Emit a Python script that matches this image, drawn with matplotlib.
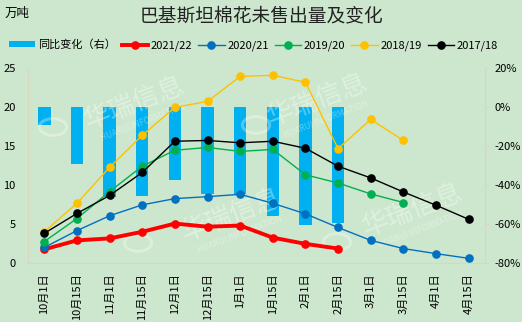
import numpy as np
import matplotlib.pyplot as plt
from matplotlib.patches import Circle

plt.rcParams['font.family'] = ['Noto Sans CJK SC', 'DejaVu Sans']
plt.rcParams['font.size'] = 8

dates = ['10月1日', '10月15日', '11月1日', '11月15日', '12月1日', '12月15日', '1月1日',
         '1月15日', '2月1日', '2月15日', '3月1日', '3月15日', '4月1日', '4月15日']

# 未售出量（万吨）
s2122 = [1.8, 2.95, 3.2, 4.05, 5.1, 4.7, 4.85, 3.3, 2.5, 1.9]
s2021 = [2.05, 4.2, 6.1, 7.5, 8.3, 8.55, 8.85, 7.7, 6.35, 4.6, 2.95, 1.9, 1.25, 0.65]
s1920 = [2.8, 5.75, 9.2, 12.45, 14.5, 14.85, 14.35, 14.6, 11.35, 10.3, 8.9, 7.8]
s1819 = [4.05, 7.7, 12.3, 16.4, 20.0, 20.75, 23.95, 24.1, 23.2, 14.7, 18.45, 15.75]
s1718 = [3.85, 6.4, 8.7, 11.65, 15.65, 15.75, 15.45, 15.65, 14.75, 12.45, 10.95, 9.15, 7.45, 5.65]
# 同比变化（%）
yoy = [-9, -29, -46, -45.5, -37.5, -44.5, -44.5, -55.6, -60.2, -59.1]

bg = '#CDE7CE'
axc = '#D8D6BE'

fig = plt.figure(figsize=(5.22, 3.22), dpi=100, facecolor=bg)
ax = fig.add_axes([0.0536, 0.182, 0.8755, 0.606])
ax2 = ax.twinx()
ax.set_zorder(ax2.get_zorder() + 1)
ax.patch.set_visible(False)
ax2.set_facecolor(bg)

x = np.arange(len(dates))
bars = ax2.bar(x[:len(yoy)], yoy, width=0.38, color='#00B0F0', label='同比变化（右）')
ax2.set_ylim(-80, 20)
ax2.set_yticks(np.arange(-80, 21, 20))
ax2.set_yticklabels([f'{v}%' for v in range(-80, 21, 20)])
ax2.tick_params(axis='y', length=3, color=axc, pad=4, labelsize=8)

series = [('2021/22', s2122, '#FF0000', 2.8),
          ('2020/21', s2021, '#0070C0', 1.0),
          ('2019/20', s1920, '#00B050', 1.0),
          ('2018/19', s1819, '#FFC000', 1.0),
          ('2017/18', s1718, '#000000', 1.0)]
lines = []
for name, vals, c, lw in series:
    ln, = ax.plot(x[:len(vals)], vals, color=c, lw=lw, marker='o', ms=5.2,
                  label=name, zorder=3)
    lines.append(ln)

ax.set_xlim(-0.5, len(dates) - 0.5)
ax.set_ylim(0, 25)
ax.set_yticks(np.arange(0, 26, 5))
ax.set_xticks(x)
ax.set_xticklabels(dates, rotation=90)
ax.tick_params(axis='y', length=0, pad=9, labelsize=8)
ax.tick_params(axis='x', length=0, pad=7, labelsize=8)

for a in (ax, ax2):
    a.spines['top'].set_visible(False)
    for s in ('left', 'right', 'bottom'):
        a.spines[s].set_color(axc)
        a.spines[s].set_linewidth(0.8)

# watermark
for tx, ty, lx, ly in [(135, 103, 53, 127), (318, 100, 256, 125),
                       (232, 215, 138, 243), (413, 210, 337, 242)]:
    ax.text(tx / 522, 1 - ty / 322, '华瑞信息', transform=fig.transFigure,
            fontsize=19, color='white', alpha=0.35, rotation=21,
            ha='center', va='center', zorder=1)
    ax.text((tx + 8) / 522, 1 - (ty + 20) / 322, 'HUARUI INFORMATION',
            transform=fig.transFigure, fontsize=6, color='white', alpha=0.35,
            rotation=21, ha='center', va='center', zorder=1)
    ax.add_patch(Circle((lx / 522, 1 - ly / 322), 0.026, transform=fig.transFigure,
                        fill=False, ec='white', lw=2.2, alpha=0.3, zorder=1))

fig.text(0.5, 0.952, '巴基斯坦棉花未售出量及变化', ha='center', va='center',
         fontsize=13.5, color='#222222')
fig.text(0.008, 0.958, '万吨', ha='left', va='center', fontsize=9)

fig.legend([bars] + lines, ['同比变化（右）'] + [s[0] for s in series],
           loc='center', bbox_to_anchor=(0.485, 0.86), ncol=6, frameon=False,
           fontsize=8, handlelength=2.4, handletextpad=0.2, columnspacing=0.55,
           handleheight=0.5)

plt.savefig('out.png', dpi=100, facecolor=bg)
